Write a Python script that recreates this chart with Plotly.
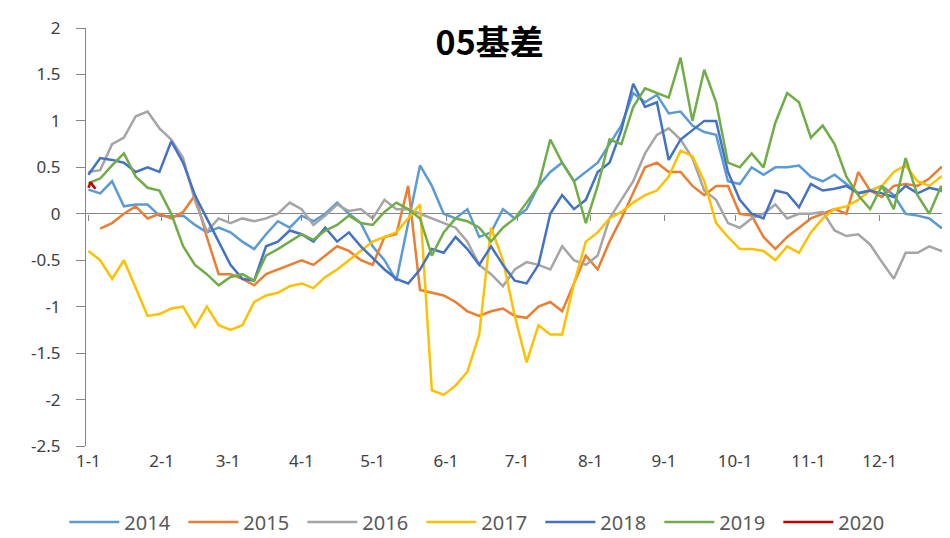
import plotly.graph_objects as go

# day offsets from Jan 1, sampled every 5 days
days = list(range(0, 366, 5))

month_days = [0, 31, 59, 90, 120, 151, 181, 212, 243, 273, 304, 334]
month_labels = ["1-1", "2-1", "3-1", "4-1", "5-1", "6-1", "7-1", "8-1", "9-1", "10-1", "11-1", "12-1"]

y_ticks = [2, 1.5, 1, 0.5, 0, -0.5, -1, -1.5, -2, -2.5]
y_labels = ["2", "1.5", "1", "0.5", "0", "-0.5", "-1", "-1.5", "-2", "-2.5"]

s2014 = [0.26, 0.22, 0.35, 0.08, 0.1, 0.1, -0.02, -0.03, -0.02, -0.12, -0.2, -0.15, -0.2,
         -0.3, -0.38, -0.22, -0.08, -0.15, -0.02, -0.08, 0.0, 0.12, 0.0, -0.1,
         -0.35, -0.5, -0.72, -0.1, 0.52, 0.3, 0.0, -0.05, 0.05, -0.25, -0.2, 0.05, -0.05,
         0.05, 0.3, 0.45, 0.55, 0.35, 0.45, 0.55, 0.75, 0.95,
         1.3, 1.2, 1.28, 1.08, 1.1, 0.95, 0.88, 0.85, 0.35, 0.32, 0.5, 0.42, 0.5, 0.5,
         0.52, 0.4, 0.35, 0.42, 0.32, 0.22, 0.25, 0.3, 0.2, 0.0, -0.02, -0.05, -0.15, -0.17]

s2015 = [None, -0.16, -0.1, 0.0, 0.08, -0.05, 0.0, -0.05, 0.02, 0.2, -0.25, -0.65, -0.65,
         -0.7, -0.77, -0.65, -0.6, -0.55, -0.5, -0.55, -0.45, -0.35, -0.4, -0.5,
         -0.55, -0.25, -0.22, 0.3, -0.82, -0.85, -0.88, -0.95, -1.05, -1.1, -1.05, -1.02, -1.1,
         -1.12, -1.0, -0.95, -1.05, -0.75, -0.45, -0.6, -0.3, -0.05,
         0.22, 0.5, 0.55, 0.45, 0.45, 0.3, 0.2, 0.3, 0.3, 0.0, -0.02, -0.25, -0.38, -0.25,
         -0.15, -0.05, 0.0, 0.05, 0.0, 0.45, 0.25, 0.18, 0.3, 0.32, 0.3, 0.38, 0.5, 0.42]

s2016 = [0.45, 0.47, 0.75, 0.82, 1.05, 1.1, 0.92, 0.8, 0.6, 0.14, -0.19, -0.05, -0.1,
         -0.05, -0.08, -0.05, 0.0, 0.12, 0.05, -0.12, -0.02, 0.1, 0.03, 0.05,
         -0.05, 0.15, 0.05, 0.05, 0.0, -0.05, -0.1, -0.15, -0.3, -0.55, -0.65, -0.78, -0.6,
         -0.52, -0.55, -0.6, -0.35, -0.5, -0.55, -0.45, -0.05, 0.15,
         0.35, 0.65, 0.85, 0.92, 0.8, 0.6, 0.25, 0.15, -0.1, -0.15, -0.05, 0.0, 0.1, -0.05,
         0.0, 0.0, 0.02, -0.18, -0.24, -0.22, -0.33, -0.52, -0.7, -0.42, -0.42, -0.35, -0.4, -0.35]

s2017 = [-0.4, -0.5, -0.7, -0.5, -0.8, -1.1, -1.08, -1.02, -1.0, -1.22, -1.0, -1.2, -1.25,
         -1.2, -0.95, -0.88, -0.85, -0.78, -0.75, -0.8, -0.68, -0.6, -0.5, -0.4,
         -0.3, -0.25, -0.2, -0.05, 0.1, -1.9, -1.95, -1.85, -1.7, -1.3, -0.15, -0.5, -1.1,
         -1.6, -1.2, -1.3, -1.3, -0.75, -0.3, -0.2, -0.05, 0.02,
         0.12, 0.2, 0.25, 0.4, 0.68, 0.62, 0.35, -0.1, -0.25, -0.38, -0.38, -0.4, -0.5, -0.35,
         -0.42, -0.2, -0.05, 0.05, 0.08, 0.15, 0.25, 0.3, 0.45, 0.52, 0.35, 0.3, 0.4, 0.3]

s2018 = [0.42, 0.6, 0.58, 0.55, 0.45, 0.5, 0.45, 0.78, 0.55, 0.2, -0.05, -0.3, -0.55,
         -0.7, -0.72, -0.35, -0.3, -0.18, -0.22, -0.3, -0.15, -0.3, -0.2, -0.35,
         -0.48, -0.6, -0.7, -0.75, -0.6, -0.38, -0.42, -0.25, -0.38, -0.55, -0.35, -0.55, -0.72,
         -0.75, -0.55, 0.0, 0.2, 0.05, 0.15, 0.45, 0.55, 0.9,
         1.4, 1.15, 1.2, 0.58, 0.8, 0.9, 1.0, 1.0, 0.45, 0.15, 0.0, -0.05, 0.25, 0.22,
         0.07, 0.32, 0.25, 0.27, 0.3, 0.22, 0.25, 0.22, 0.18, 0.3, 0.22, 0.28, 0.25, 0.2]

s2019 = [0.33, 0.38, 0.52, 0.65, 0.4, 0.28, 0.25, 0.0, -0.35, -0.55, -0.65, -0.77, -0.68,
         -0.65, -0.72, -0.45, -0.38, -0.3, -0.22, -0.28, -0.18, -0.12, -0.02, -0.1,
         -0.12, 0.02, 0.12, 0.05, -0.05, -0.45, -0.2, -0.05, -0.08, -0.15, -0.3, -0.15, -0.05,
         0.12, 0.3, 0.8, 0.55, 0.35, -0.1, 0.3, 0.8, 0.75,
         1.15, 1.35, 1.3, 1.25, 1.68, 1.0, 1.55, 1.2, 0.55, 0.5, 0.65, 0.5, 0.98, 1.3,
         1.2, 0.82, 0.95, 0.75, 0.4, 0.2, 0.05, 0.3, 0.05, 0.6, 0.2, 0.0, 0.3, -0.15]

days2020 = [0, 1, 2, 3]
s2020 = [0.28, 0.34, 0.3, 0.27]

series = [("2014", s2014, "#5B9BD5"), ("2015", s2015, "#ED7D31"), ("2016", s2016, "#A5A5A5"),
          ("2017", s2017, "#FFC000"), ("2018", s2018, "#4472C4"), ("2019", s2019, "#70AD47")]

fig = go.Figure()
for name, vals, col in series:
    fig.add_trace(go.Scatter(x=days, y=vals, mode="lines", name=name,
                             line=dict(color=col, width=2.5)))
fig.add_trace(go.Scatter(x=days2020, y=s2020, mode="lines", name="2020", xaxis="x2",
                         line=dict(color="#C00000", width=2.5)))

axis_font = dict(family="Noto Sans", size=17, color="#404040")

fig.update_layout(
    width=950, height=538,
    paper_bgcolor="white", plot_bgcolor="white",
    margin=dict(l=78, r=5, t=20, b=89),
    title=dict(text="<b>05基差</b>", x=0.507, xanchor="center", y=0.935, yanchor="middle",
               font=dict(family="Noto Sans CJK SC", size=34, color="black")),
    xaxis=dict(range=[-1, 365], tickvals=month_days, ticktext=month_labels, showgrid=False,
               zeroline=False, showline=False, ticks="", tickfont=axis_font,
               ticklabelstandoff=3),
    xaxis2=dict(overlaying="x", matches="x", anchor="free", position=2.5 / 4.5,
                showticklabels=False, showgrid=False, zeroline=False, showline=False,
                ticks="outside", ticklen=6, tickcolor="#868686", tickvals=month_days),
    yaxis=dict(range=[-2.5, 2], tickvals=y_ticks, ticktext=y_labels, showgrid=False,
               showline=True, linecolor="#868686", linewidth=1, ticks="outside", ticklen=9,
               tickcolor="#868686", zeroline=True, zerolinecolor="#868686", zerolinewidth=1,
               tickfont=axis_font, ticklabelstandoff=12),
    legend=dict(orientation="h", x=-0.025, xanchor="left", y=-0.182, yanchor="middle",
                entrywidth=54, entrywidthmode="pixels", itemwidth=50,
                font=dict(family="Noto Sans", size=20, color="#595959")),
    showlegend=True,
)

fig.write_html("out.html")
